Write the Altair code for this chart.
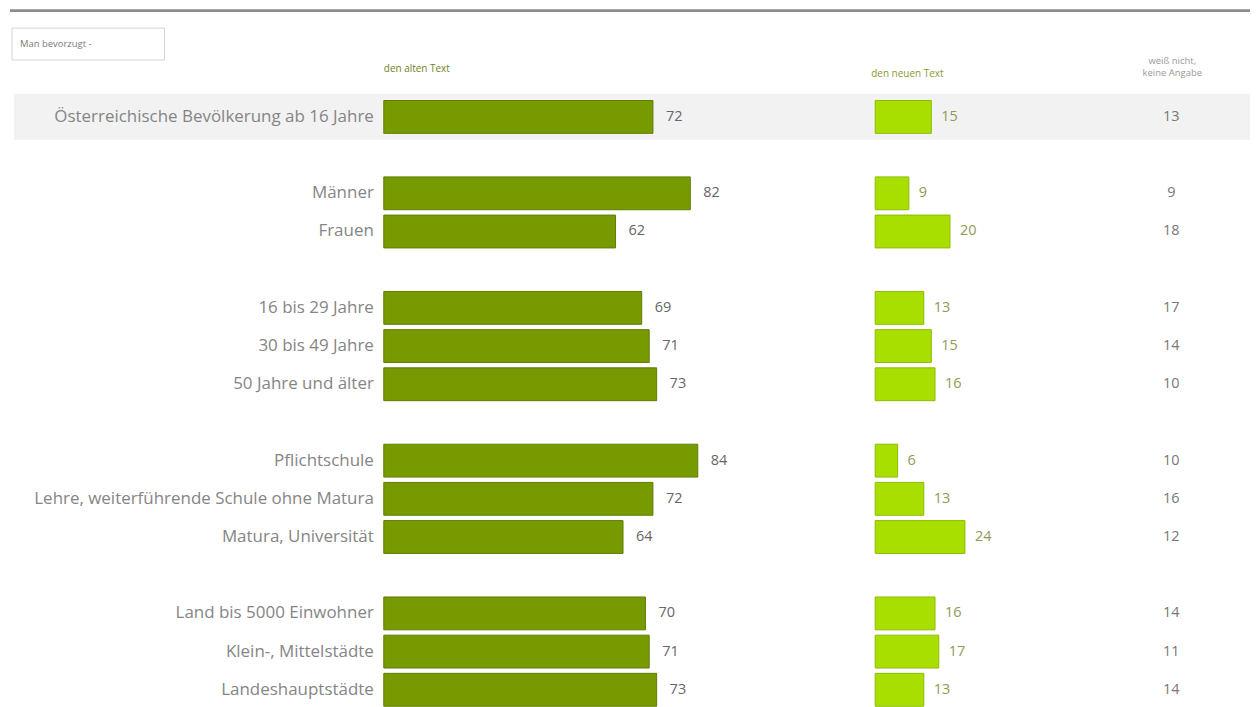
import altair as alt
import pandas as pd

# ---------------- data ----------------
categories = [
    "Österreichische Bevölkerung ab 16 Jahre",
    "Männer", "Frauen",
    "16 bis 29 Jahre", "30 bis 49 Jahre", "50 Jahre und älter",
    "Pflichtschule", "Lehre, weiterführende Schule ohne Matura", "Matura, Universität",
    "Land bis 5000 Einwohner", "Klein-, Mittelstädte", "Landeshauptstädte",
]
groups = [0, 1, 1, 2, 2, 2, 3, 3, 3, 4, 4, 4]
alter_text = [72, 82, 62, 69, 71, 73, 84, 72, 64, 70, 71, 73]
neuer_text = [15, 9, 20, 13, 15, 16, 6, 13, 24, 16, 17, 13]
weiss_nicht = [13, 9, 18, 17, 14, 10, 10, 16, 12, 14, 11, 14]

header_alt = "den alten Text"
header_neu = "den neuen Text"
header_wn = ["weiß nicht,", "keine Angabe"]
filter_label = "Man bevorzugt -"

df = pd.DataFrame({"label": categories, "alter": alter_text,
                   "neu": neuer_text, "wn": weiss_nicht, "grp": groups})

# y domain with a blank slot between groups
domain = []
prev = None
for c, g in zip(categories, groups):
    if prev is not None and g != prev:
        domain.append(" " * (g + 1))
    domain.append(c)
    prev = g

FONT = "Open Sans"
H = 613
W_L, W_A, W_B, W_C = 375, 493, 224, 152
PX = 3.75  # pixels per percentage point

yenc = alt.Y("label:N", scale=alt.Scale(domain=domain, paddingInner=0.14, paddingOuter=0.07), axis=None)

base = alt.Chart(df)
first = base.transform_filter(alt.datum.grp == 0)


def band(w, x0=0):
    return first.mark_bar(height=46, color="#f2f2f2").encode(
        y=yenc, x=alt.value(x0), x2=alt.value(w + 1))


# ---- panel L: labels, filter box, top line ----
line = alt.Chart(pd.DataFrame({"a": [0]})).mark_rule(color="#8c8c8c", strokeWidth=3).encode(
    x=alt.value(0), x2=alt.value(W_L + W_A + W_B + W_C), y=alt.value(-87.5))
box = alt.Chart(pd.DataFrame({"t": [filter_label]})).mark_rect(
    fill="white", stroke="#d6d6d6", strokeWidth=1).encode(
    x=alt.value(2), x2=alt.value(155), y=alt.value(-70), y2=alt.value(-38))
box_text = alt.Chart(pd.DataFrame({"t": [filter_label]})).mark_text(
    align="left", baseline="middle", font=FONT, fontSize=9.5, color="#7a7a7a").encode(
    x=alt.value(10), y=alt.value(-54), text="t:N")
labels = base.mark_text(align="right", baseline="middle", font=FONT, fontSize=17,
                        color="#858585").encode(y=yenc, x=alt.value(W_L - 10), text="label:N")
panel_L = alt.layer(band(W_L, 4), line, box, box_text, labels).properties(width=W_L, height=H)

# ---- panel A: old text bars ----
xa = alt.X("alter:Q", scale=alt.Scale(domain=[0, W_A / PX], nice=False, zero=True), axis=None)
bars_a = base.mark_bar(color="#779a00", stroke="#5f7c00", strokeWidth=1).encode(y=yenc, x=xa)
vals_a = base.mark_text(align="left", baseline="middle", dx=13, font=FONT, fontSize=14.5,
                        color="#666666").encode(y=yenc, x=xa, text="alter:Q")
head_a = alt.Chart(pd.DataFrame({"h": [header_alt]})).mark_text(
    align="left", baseline="middle", font=FONT, fontSize=10, color="#6f7f25").encode(
    x=alt.value(0), y=alt.value(-29), text="h:N")
panel_A = alt.layer(band(W_A), bars_a, vals_a, head_a).properties(width=W_A, height=H)

# ---- panel B: new text bars ----
xb = alt.X("neu:Q", scale=alt.Scale(domain=[0, W_B / PX], nice=False, zero=True), axis=None)
bars_b = base.mark_bar(color="#a8df00", stroke="#8cbd00", strokeWidth=1).encode(y=yenc, x=xb)
vals_b = base.mark_text(align="left", baseline="middle", dx=10, font=FONT, fontSize=14.5,
                        color="#8e9a55").encode(y=yenc, x=xb, text="neu:Q")
head_b = alt.Chart(pd.DataFrame({"h": [header_neu]})).mark_text(
    align="left", baseline="middle", font=FONT, fontSize=10, color="#8a9a30").encode(
    x=alt.value(-4), y=alt.value(-24), text="h:N")
panel_B = alt.layer(band(W_B), bars_b, vals_b, head_b).properties(width=W_B, height=H)

# ---- panel C: don't know ----
vals_c = base.mark_text(align="center", baseline="middle", font=FONT, fontSize=14.5,
                        color="#777777").encode(y=yenc, x=alt.value(73), text="wn:Q")
head_c = alt.Chart(pd.DataFrame({"h": ["\n".join(header_wn)]})).mark_text(
    align="center", baseline="middle", lineBreak="\n", lineHeight=12,
    font=FONT, fontSize=9.5, color="#999999").encode(
    x=alt.value(74), y=alt.value(-37), text="h:N")
panel_C = alt.layer(band(W_C - 1), vals_c, head_c).properties(width=W_C, height=H)

chart = alt.hconcat(panel_L, panel_A, panel_B, panel_C, spacing=0).properties(
    bounds="flush", padding=0
).configure(background="white", view=alt.ViewConfig(stroke=None))

chart.save("out.html", embed_options={"renderer": "svg", "actions": False})
